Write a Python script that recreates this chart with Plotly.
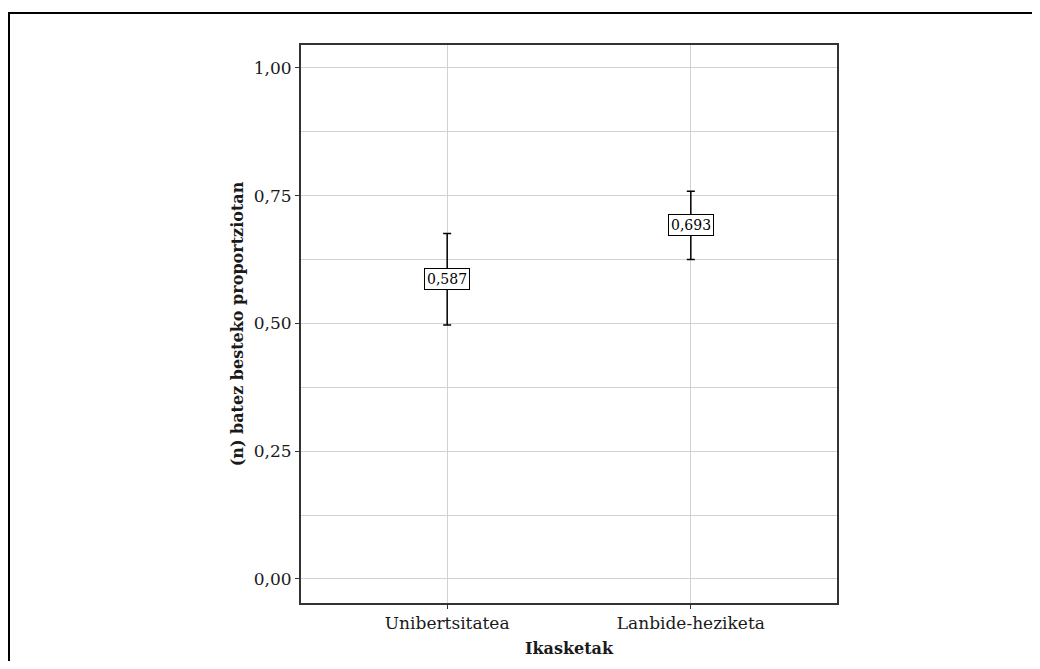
import plotly.graph_objects as go

categories = ["Unibertsitatea", "Lanbide-heziketa"]
means = [0.587, 0.693]
upper = [0.676, 0.759]
lower = [0.497, 0.625]
ytick_vals = [0.0, 0.25, 0.5, 0.75, 1.0]
ytick_text = ["0,00", "0,25", "0,50", "0,75", "1,00"]
labels = ["0,587", "0,693"]
x_title = "Ikasketak"
y_title = "(n) batez besteko proportziotan"

FONT = "DejaVu Serif"
W, H = 1024, 653
L, R, T, B = 293, 829, 37, 595  # plot area in figure px

fig = go.Figure()
fig.add_trace(go.Scatter(
    x=categories, y=means, mode="markers",
    marker=dict(size=1, color="rgba(0,0,0,0)"),
    error_y=dict(type="data", symmetric=False,
                 array=[u - m for u, m in zip(upper, means)],
                 arrayminus=[m - l for m, l in zip(means, lower)],
                 color="black", thickness=1.5, width=4),
    showlegend=False, hoverinfo="skip",
))

for c, m, t in zip(categories, means, labels):
    fig.add_annotation(x=c, y=m, text=t, showarrow=False,
                       font=dict(family=FONT, size=14, color="black"),
                       bgcolor="white", bordercolor="black", borderwidth=1,
                       borderpad=2)

pw, ph = R - L, B - T
# x-axis title as annotation
fig.add_annotation(xref="paper", yref="paper", x=0.5, y=(B - 640) / ph,
                   text="<b>" + x_title + "</b>", showarrow=False,
                   xanchor="center", yanchor="middle",
                   font=dict(family=FONT, size=16, color="#1a1a1a"))

# outer figure border
fig.add_shape(type="rect", xref="paper", yref="paper",
              x0=(1 - L) / pw, x1=(W + 10 - L) / pw,
              y0=(B - (H + 10)) / ph, y1=(B - 5) / ph,
              line=dict(color="black", width=2), layer="below")

fig.update_layout(
    width=W, height=H,
    margin=dict(l=L, r=W - R, t=T, b=H - B),
    paper_bgcolor="white", plot_bgcolor="white",
    font=dict(family=FONT, size=17, color="#1a1a1a"),
    xaxis=dict(
        type="category", range=[-0.6, 1.6],
        showgrid=True, gridcolor="#d2d2d2", gridwidth=1.2,
        showline=True, linecolor="#333333", linewidth=2, mirror=True,
        ticks="outside", ticklen=4, tickcolor="#333333",
        tickfont=dict(family=FONT, size=17, color="#1a1a1a"),
        zeroline=False, automargin=False,
    ),
    yaxis=dict(
        range=[-0.047, 1.045],
        tickvals=ytick_vals, ticktext=ytick_text,
        showgrid=True, gridcolor="#d2d2d2", gridwidth=1.2,
        minor=dict(tickvals=[0.125, 0.375, 0.625, 0.875], showgrid=True,
                   gridcolor="#d2d2d2", gridwidth=1.2, ticks=""),
        showline=True, linecolor="#333333", linewidth=2, mirror=True,
        ticks="outside", ticklen=4, tickcolor="#333333",
        tickfont=dict(family=FONT, size=17, color="#1a1a1a"),
        title=dict(text="<b>" + y_title + "</b>", font=dict(family=FONT, size=16, color="#1a1a1a"), standoff=6),
        zeroline=False, automargin=False,
    ),
)

fig.write_html("out.html")
